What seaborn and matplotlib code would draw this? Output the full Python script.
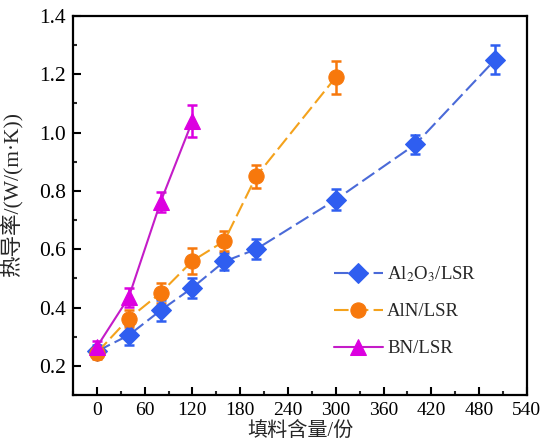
"""Thermal conductivity of filled LSR vs filler content."""
import numpy as np
import pandas as pd
import matplotlib
matplotlib.use("Agg")
import matplotlib.pyplot as plt
from matplotlib.ticker import MultipleLocator
import seaborn as sns

# ------------------------------------------------------------------
# Data
# ------------------------------------------------------------------
al2o3_x = [0, 40, 80, 120, 160, 200, 300, 400, 500]
al2o3_y = [0.25, 0.305, 0.39, 0.468, 0.558, 0.60, 0.77, 0.96, 1.25]
al2o3_err = [0.02, 0.035, 0.035, 0.035, 0.03, 0.035, 0.037, 0.033, 0.05]

aln_x = [0, 40, 80, 120, 160, 200, 300]
aln_y = [0.245, 0.362, 0.45, 0.56, 0.628, 0.85, 1.19]
aln_err = [0.02, 0.03, 0.035, 0.045, 0.035, 0.04, 0.056]

bn_x = [0, 40, 80, 120]
bn_y = [0.265, 0.435, 0.762, 1.04]
bn_err = [0.02, 0.032, 0.035, 0.055]

series_names = ["Al$_2$O$_3$/LSR", "AlN/LSR", "BN/LSR"]
x_ticks = [0, 60, 120, 180, 240, 300, 360, 420, 480, 540]
y_ticks = [0.2, 0.4, 0.6, 0.8, 1.0, 1.2, 1.4]

# ------------------------------------------------------------------
# Styling
# ------------------------------------------------------------------
sns.set_theme(style="ticks")
plt.rcParams["font.family"] = ["Liberation Serif", "Noto Sans CJK SC"]
plt.rcParams["mathtext.fontset"] = "stix"

marker_colors = {"Al$_2$O$_3$/LSR": "#2f5ef0", "AlN/LSR": "#f7780c", "BN/LSR": "#dc00e0"}
line_colors = {"Al$_2$O$_3$/LSR": "#4a6ad8", "AlN/LSR": "#f4a21c", "BN/LSR": "#c41cc8"}
markers = {"Al$_2$O$_3$/LSR": "D", "AlN/LSR": "o", "BN/LSR": "^"}
marker_sizes = {"Al$_2$O$_3$/LSR": 10, "AlN/LSR": 11, "BN/LSR": 11}
dashes = {"Al$_2$O$_3$/LSR": (7, 2.5), "AlN/LSR": (7, 2.5), "BN/LSR": ""}

frames = []
for name, xs, ys, es in zip(series_names,
                            [al2o3_x, aln_x, bn_x],
                            [al2o3_y, aln_y, bn_y],
                            [al2o3_err, aln_err, bn_err]):
    frames.append(pd.DataFrame({"content": xs, "k": ys, "err": es, "series": name}))
df = pd.concat(frames, ignore_index=True)

fig = plt.figure(figsize=(5.43, 4.48), dpi=100)
ax = fig.add_axes([0.1344, 0.1183, 0.836, 0.846])

# error bars first so markers sit on top
for name in series_names:
    sub = df[df["series"] == name]
    ax.errorbar(sub["content"], sub["k"], yerr=sub["err"], fmt="none",
                ecolor=marker_colors[name], elinewidth=1.8, capsize=3.5,
                capthick=1.8, zorder=2)

for name in series_names:
    sub = df[df["series"] == name]
    sns.lineplot(data=sub, x="content", y="k", ax=ax, color=line_colors[name],
                 linewidth=1.5, marker=markers[name], markersize=marker_sizes[name],
                 markerfacecolor=marker_colors[name], markeredgecolor=marker_colors[name],
                 zorder=3, legend=False)
    line = ax.lines[-1]
    if dashes[name]:
        line.set_dashes(dashes[name])
    else:
        line.set_linestyle("-")
    line.set_label(name)

ax.set_xlim(-30, 540)
ax.set_ylim(0.1, 1.4)
ax.set_xticks(x_ticks)
ax.set_yticks(y_ticks)
ax.set_yticklabels([f"{v:.1f}" for v in y_ticks])
ax.xaxis.set_minor_locator(MultipleLocator(30))
ax.yaxis.set_minor_locator(MultipleLocator(0.1))
ax.tick_params(which="major", direction="in", length=6, width=1.5,
               colors="black", pad=5)
ax.tick_params(axis="x", which="major", labelsize=14)
ax.tick_params(axis="y", which="major", labelsize=15.5)
ax.tick_params(which="minor", direction="in", length=3, width=1.5)
for sp in ax.spines.values():
    sp.set_visible(True)
    sp.set_linewidth(1.6)
    sp.set_color("black")

ax.set_xlabel("填料含量/份", fontsize=14.5, labelpad=2)
ax.set_ylabel("热导率/(W/(m·K))", fontsize=15.5)
ax.yaxis.set_label_coords(-0.112, 0.529)

handles = [ax.lines[-3], ax.lines[-2], ax.lines[-1]]
ax.legend(handles=handles, labels=series_names, loc="upper left",
          bbox_to_anchor=(0.558, 0.365), frameon=False, fontsize=13.5,
          handlelength=2.6, handletextpad=0.25, labelspacing=1.04,
          borderaxespad=0)

fig.savefig("out.png", dpi=100)
plt.close(fig)
